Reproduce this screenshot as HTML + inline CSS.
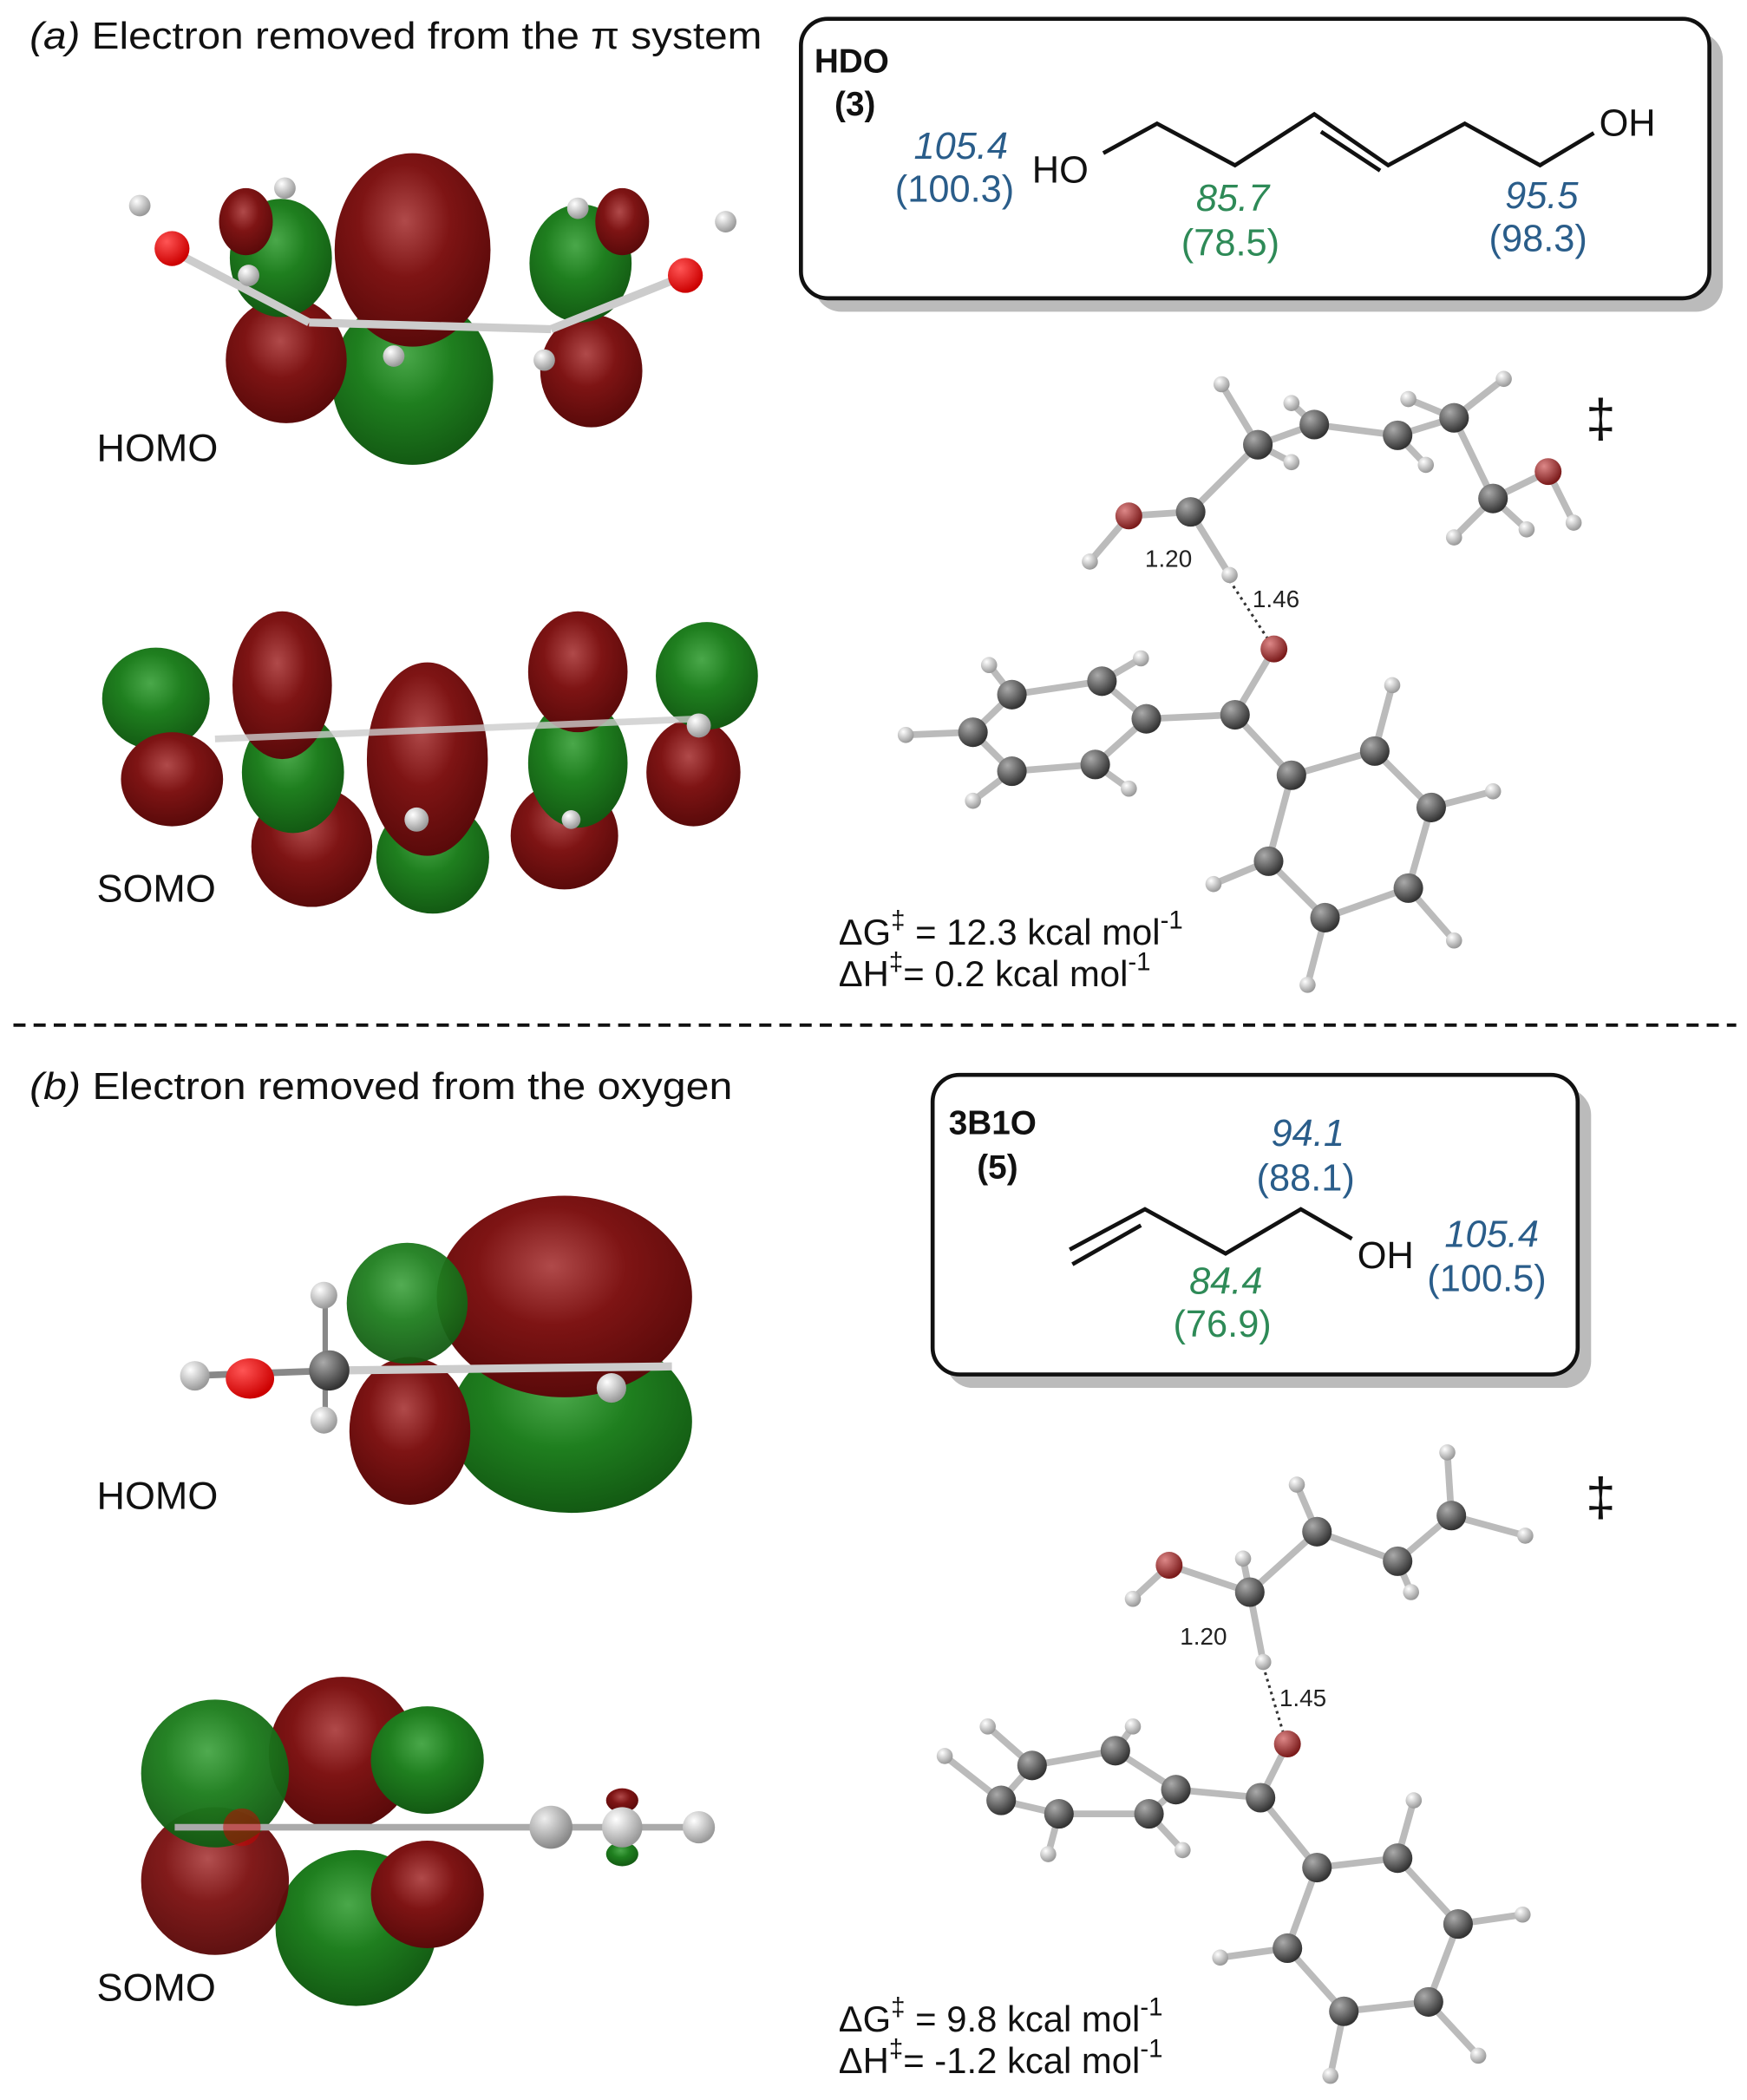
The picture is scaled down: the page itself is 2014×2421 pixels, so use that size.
<!DOCTYPE html>
<html><head><meta charset="utf-8"><style>
html,body{margin:0;padding:0;background:#fff;}
svg{display:block;}
text{font-family:"Liberation Sans",sans-serif;}
</style></head><body>
<svg width="2014" height="2421" viewBox="0 0 1300 1563" preserveAspectRatio="none" xmlns="http://www.w3.org/2000/svg">
<defs>
<radialGradient id="r" cx="45%" cy="35%" r="65%"><stop offset="0" stop-color="#b04a4a"/><stop offset="0.45" stop-color="#7e1414"/><stop offset="1" stop-color="#5a0a0a"/></radialGradient>
<radialGradient id="g" cx="45%" cy="35%" r="65%"><stop offset="0" stop-color="#4aa84a"/><stop offset="0.45" stop-color="#1f7f1f"/><stop offset="1" stop-color="#135a13"/></radialGradient>
<radialGradient id="c" cx="35%" cy="30%" r="70%"><stop offset="0" stop-color="#aaa"/><stop offset="1" stop-color="#333"/></radialGradient>
<radialGradient id="h" cx="35%" cy="30%" r="70%"><stop offset="0" stop-color="#fff"/><stop offset="1" stop-color="#999"/></radialGradient>
<radialGradient id="o" cx="35%" cy="30%" r="70%"><stop offset="0" stop-color="#d88"/><stop offset="1" stop-color="#7a1a1a"/></radialGradient>
<radialGradient id="ob" cx="35%" cy="30%" r="70%"><stop offset="0" stop-color="#f55"/><stop offset="1" stop-color="#c00"/></radialGradient>
<radialGradient id="cl" cx="35%" cy="30%" r="70%"><stop offset="0" stop-color="#eee"/><stop offset="1" stop-color="#888"/></radialGradient>
</defs>

<!-- Section (a) header -->
<text x="22" y="36" font-size="28" fill="#111" textLength="545" lengthAdjust="spacingAndGlyphs"><tspan font-style="italic">(a)</tspan>  Electron removed from the π system</text>

<!-- HDO box -->
<rect x="606" y="24" width="676" height="208" rx="20" fill="#bbb"/>
<rect x="596" y="14" width="676" height="208" rx="20" fill="#fff" stroke="#111" stroke-width="3"/>
<text x="606" y="54" font-size="25" font-weight="bold" fill="#111">HDO</text>
<text x="621" y="86" font-size="25" font-weight="bold" fill="#111">(3)</text>
<text x="680" y="118" font-size="28" font-style="italic" fill="#2a5d8a">105.4</text>
<text x="666" y="150" font-size="28" fill="#2a5d8a">(100.3)</text>
<text x="768" y="136" font-size="28" fill="#111">HO</text>
<polyline points="821,114 861,92 919,123 978,85 1033,123 1090,92 1146,123 1186,99" fill="none" stroke="#111" stroke-width="3"/>
<line x1="983" y1="98" x2="1027" y2="127" stroke="#111" stroke-width="3"/>
<text x="1190" y="101" font-size="28" fill="#111">OH</text>
<text x="890" y="157" font-size="28" font-style="italic" fill="#2e8a57">85.7</text>
<text x="879" y="190" font-size="28" fill="#2e8a57">(78.5)</text>
<text x="1120" y="155" font-size="28" font-style="italic" fill="#2a5d8a">95.5</text>
<text x="1108" y="187" font-size="28" fill="#2a5d8a">(98.3)</text>

<!-- HOMO (a) -->
<ellipse cx="307" cy="283" rx="60" ry="63" fill="url(#g)"/>
<ellipse cx="307" cy="186" rx="58" ry="72" fill="url(#r)"/>
<ellipse cx="213" cy="268" rx="45" ry="47" fill="url(#r)"/>
<ellipse cx="209" cy="192" rx="38" ry="44" fill="url(#g)"/>
<ellipse cx="440" cy="276" rx="38" ry="42" fill="url(#r)"/>
<ellipse cx="432" cy="196" rx="38" ry="44" fill="url(#g)"/>
<ellipse cx="183" cy="165" rx="20" ry="25" fill="url(#r)"/>
<ellipse cx="463" cy="165" rx="20" ry="25" fill="url(#r)"/>
<line x1="125" y1="185" x2="230" y2="240" stroke="#ccc" stroke-width="6"/>
<line x1="230" y1="240" x2="410" y2="245" stroke="#ccc" stroke-width="6"/>
<line x1="410" y1="245" x2="510" y2="205" stroke="#ccc" stroke-width="6"/>
<circle cx="128" cy="185" r="13" fill="url(#ob)"/>
<circle cx="510" cy="205" r="13" fill="url(#ob)"/>
<circle cx="104" cy="153" r="8" fill="url(#h)"/>
<circle cx="212" cy="140" r="8" fill="url(#h)"/>
<circle cx="185" cy="205" r="8" fill="url(#h)"/>
<circle cx="293" cy="265" r="8" fill="url(#h)"/>
<circle cx="405" cy="268" r="8" fill="url(#h)"/>
<circle cx="430" cy="155" r="8" fill="url(#h)"/>
<circle cx="540" cy="165" r="8" fill="url(#h)"/>
<text x="72" y="343" font-size="29" fill="#111">HOMO</text>

<!-- SOMO (a) -->
<ellipse cx="116" cy="520" rx="40" ry="38" fill="url(#g)"/>
<ellipse cx="128" cy="580" rx="38" ry="35" fill="url(#r)"/>
<ellipse cx="322" cy="638" rx="42" ry="42" fill="url(#g)"/>
<ellipse cx="232" cy="630" rx="45" ry="45" fill="url(#r)"/>
<ellipse cx="420" cy="622" rx="40" ry="40" fill="url(#r)"/>
<ellipse cx="318" cy="565" rx="45" ry="72" fill="url(#r)"/>
<ellipse cx="218" cy="575" rx="38" ry="45" fill="url(#g)"/>
<ellipse cx="210" cy="510" rx="37" ry="55" fill="url(#r)"/>
<ellipse cx="430" cy="568" rx="37" ry="48" fill="url(#g)"/>
<ellipse cx="430" cy="500" rx="37" ry="45" fill="url(#r)"/>
<ellipse cx="516" cy="575" rx="35" ry="40" fill="url(#r)"/>
<ellipse cx="526" cy="503" rx="38" ry="40" fill="url(#g)"/>
<line x1="160" y1="550" x2="520" y2="535" stroke="#ccc" stroke-width="5" opacity="0.8"/>
<circle cx="310" cy="610" r="9" fill="url(#h)"/>
<circle cx="425" cy="610" r="7" fill="url(#h)"/>
<circle cx="520" cy="540" r="9" fill="url(#h)"/>
<text x="72" y="671" font-size="29" fill="#111">SOMO</text>

<!-- TS (a) -->
<g stroke="#bbb" stroke-width="5" fill="none">
<polyline points="909,286 936,331 978,316 1040,324 1082,311 1119,282"/>
<line x1="936" y1="331" x2="961" y2="344"/><line x1="978" y1="316" x2="961" y2="300"/><line x1="1040" y1="324" x2="1061" y2="346"/><line x1="1082" y1="311" x2="1048" y2="297"/>
<polyline points="1082,311 1111,371 1152,351 1171,389"/><line x1="1111" y1="371" x2="1082" y2="400"/><line x1="1111" y1="371" x2="1136" y2="394"/>
<polyline points="936,331 886,381 840,384 811,418"/><line x1="886" y1="381" x2="915" y2="428"/>
<polyline points="948,483 919,532 853,535"/>
<polygon points="853,535 820,507 753,517 724,545 753,574 815,569"/>
<line x1="820" y1="507" x2="849" y2="490"/><line x1="753" y1="517" x2="736" y2="495"/><line x1="724" y1="545" x2="674" y2="547"/><line x1="753" y1="574" x2="724" y2="596"/><line x1="815" y1="569" x2="840" y2="587"/>
<line x1="919" y1="532" x2="961" y2="577"/>
<polygon points="961,577 1023,559 1065,601 1048,661 986,683 944,641"/>
<line x1="1023" y1="559" x2="1036" y2="510"/><line x1="1065" y1="601" x2="1111" y2="589"/><line x1="1048" y1="661" x2="1082" y2="700"/><line x1="986" y1="683" x2="973" y2="733"/><line x1="944" y1="641" x2="903" y2="658"/>
</g>
<line x1="915" y1="432" x2="945" y2="478" stroke="#333" stroke-width="2" stroke-dasharray="2,3"/>
<g fill="url(#c)">
<circle cx="936" cy="331" r="11"/><circle cx="978" cy="316" r="11"/><circle cx="1040" cy="324" r="11"/><circle cx="1082" cy="311" r="11"/><circle cx="1111" cy="371" r="11"/><circle cx="886" cy="381" r="11"/><circle cx="919" cy="532" r="11"/>
<circle cx="853" cy="535" r="11"/><circle cx="820" cy="507" r="11"/><circle cx="753" cy="517" r="11"/><circle cx="724" cy="545" r="11"/><circle cx="753" cy="574" r="11"/><circle cx="815" cy="569" r="11"/>
<circle cx="961" cy="577" r="11"/><circle cx="1023" cy="559" r="11"/><circle cx="1065" cy="601" r="11"/><circle cx="1048" cy="661" r="11"/><circle cx="986" cy="683" r="11"/><circle cx="944" cy="641" r="11"/>
</g>
<g fill="url(#o)"><circle cx="1152" cy="351" r="10"/><circle cx="840" cy="384" r="10"/><circle cx="948" cy="483" r="10"/></g>
<g fill="url(#h)">
<circle cx="909" cy="286" r="6"/><circle cx="961" cy="344" r="6"/><circle cx="961" cy="300" r="6"/><circle cx="1061" cy="346" r="6"/><circle cx="1048" cy="297" r="6"/><circle cx="1119" cy="282" r="6"/><circle cx="1082" cy="400" r="6"/><circle cx="1136" cy="394" r="6"/><circle cx="1171" cy="389" r="6"/><circle cx="811" cy="418" r="6"/><circle cx="915" cy="428" r="6"/>
<circle cx="849" cy="490" r="6"/><circle cx="736" cy="495" r="6"/><circle cx="674" cy="547" r="6"/><circle cx="724" cy="596" r="6"/><circle cx="840" cy="587" r="6"/>
<circle cx="1036" cy="510" r="6"/><circle cx="1111" cy="589" r="6"/><circle cx="1082" cy="700" r="6"/><circle cx="973" cy="733" r="6"/><circle cx="903" cy="658" r="6"/>
</g>
<text x="852" y="422" font-size="18" fill="#222">1.20</text>
<text x="932" y="452" font-size="18" fill="#222">1.46</text>
<text x="1180" y="325" font-size="40" fill="#111">‡</text>
<text x="624" y="703" font-size="27" fill="#111">ΔG<tspan dy="-12" font-size="19">‡</tspan><tspan dy="12"> = 12.3 kcal mol</tspan><tspan dy="-12" font-size="19">-1</tspan></text>
<text x="624" y="734" font-size="27" fill="#111">ΔH<tspan dy="-12" font-size="19">‡</tspan><tspan dy="12">= 0.2 kcal mol</tspan><tspan dy="-12" font-size="19">-1</tspan></text>

<!-- dashed separator -->
<line x1="10" y1="763" x2="1292" y2="763" stroke="#111" stroke-width="2.5" stroke-dasharray="9,6"/>

<!-- Section (b) -->
<text x="22" y="818" font-size="28" fill="#111" textLength="523" lengthAdjust="spacingAndGlyphs"><tspan font-style="italic">(b)</tspan>  Electron removed from the oxygen</text>

<rect x="704" y="810" width="480" height="223" rx="20" fill="#bbb"/>
<rect x="694" y="800" width="480" height="223" rx="20" fill="#fff" stroke="#111" stroke-width="3"/>
<text x="706" y="844" font-size="25" font-weight="bold" fill="#111">3B1O</text>
<text x="727" y="877" font-size="25" font-weight="bold" fill="#111">(5)</text>
<text x="946" y="853" font-size="28" font-style="italic" fill="#2a5d8a">94.1</text>
<text x="935" y="886" font-size="28" fill="#2a5d8a">(88.1)</text>
<polyline points="796,930 852,900 912,933 968,900 1006,922" fill="none" stroke="#111" stroke-width="3"/>
<line x1="798" y1="941" x2="849" y2="912" stroke="#111" stroke-width="3"/>
<text x="1010" y="944" font-size="28" fill="#111">OH</text>
<text x="1075" y="928" font-size="28" font-style="italic" fill="#2a5d8a">105.4</text>
<text x="1062" y="961" font-size="28" fill="#2a5d8a">(100.5)</text>
<text x="885" y="963" font-size="28" font-style="italic" fill="#2e8a57">84.4</text>
<text x="873" y="995" font-size="28" fill="#2e8a57">(76.9)</text>

<!-- HOMO (b) -->
<ellipse cx="425" cy="1058" rx="90" ry="68" fill="url(#g)"/>
<ellipse cx="420" cy="965" rx="95" ry="75" fill="url(#r)"/>
<ellipse cx="305" cy="1065" rx="45" ry="55" fill="url(#r)"/>
<ellipse cx="303" cy="970" rx="45" ry="45" fill="url(#g)" opacity="0.95"/>
<line x1="140" y1="1024" x2="250" y2="1020" stroke="#888" stroke-width="5"/>
<line x1="250" y1="1020" x2="500" y2="1017" stroke="#ccc" stroke-width="6"/>
<line x1="242" y1="965" x2="242" y2="1055" stroke="#888" stroke-width="4"/>
<circle cx="145" cy="1024" r="11" fill="url(#h)"/>
<ellipse cx="186" cy="1026" rx="18" ry="15" fill="url(#ob)"/>
<circle cx="245" cy="1020" r="15" fill="url(#c)"/>
<circle cx="241" cy="964" r="10" fill="url(#h)"/>
<circle cx="241" cy="1057" r="10" fill="url(#h)"/>
<circle cx="455" cy="1033" r="11" fill="url(#h)"/>
<text x="72" y="1123" font-size="29" fill="#111">HOMO</text>

<!-- SOMO (b) -->
<ellipse cx="265" cy="1435" rx="60" ry="58" fill="url(#g)"/>
<ellipse cx="255" cy="1305" rx="55" ry="57" fill="url(#r)"/>
<ellipse cx="160" cy="1400" rx="55" ry="55" fill="url(#r)" opacity="0.97"/>
<ellipse cx="160" cy="1320" rx="55" ry="55" fill="url(#g)" opacity="0.97"/>
<ellipse cx="318" cy="1310" rx="42" ry="40" fill="url(#g)"/>
<ellipse cx="318" cy="1410" rx="42" ry="40" fill="url(#r)"/>
<line x1="130" y1="1360" x2="520" y2="1360" stroke="#aaa" stroke-width="5"/>
<circle cx="180" cy="1360" r="14" fill="#c00" opacity="0.5"/>
<circle cx="410" cy="1360" r="16" fill="url(#cl)"/>
<ellipse cx="463" cy="1340" rx="12" ry="9" fill="url(#r)"/>
<ellipse cx="463" cy="1380" rx="12" ry="9" fill="url(#g)"/>
<circle cx="463" cy="1360" r="15" fill="url(#h)"/>
<circle cx="520" cy="1360" r="12" fill="url(#h)"/>
<text x="72" y="1489" font-size="29" fill="#111">SOMO</text>

<!-- TS (b) -->
<g stroke="#bbb" stroke-width="5" fill="none">
<polyline points="1080,1128 1040,1162 980,1140 930,1185 870,1165 843,1190"/>
<line x1="1080" y1="1128" x2="1077" y2="1081"/><line x1="1080" y1="1128" x2="1135" y2="1143"/><line x1="1040" y1="1162" x2="1050" y2="1185"/><line x1="980" y1="1140" x2="965" y2="1105"/><line x1="930" y1="1185" x2="940" y2="1237"/><line x1="930" y1="1185" x2="925" y2="1160"/>
<polyline points="958,1298 938,1338 875,1332"/>
<polygon points="875,1332 830,1303 768,1314 745,1340 788,1350 855,1350"/>
<line x1="830" y1="1303" x2="843" y2="1285"/><line x1="768" y1="1314" x2="735" y2="1285"/><line x1="745" y1="1340" x2="703" y2="1307"/><line x1="788" y1="1350" x2="780" y2="1380"/><line x1="855" y1="1350" x2="880" y2="1377"/>
<line x1="938" y1="1338" x2="980" y2="1390"/>
<polygon points="980,1390 1040,1383 1085,1432 1063,1490 1000,1497 958,1450"/>
<line x1="1040" y1="1383" x2="1052" y2="1340"/><line x1="1085" y1="1432" x2="1133" y2="1425"/><line x1="1063" y1="1490" x2="1100" y2="1530"/><line x1="1000" y1="1497" x2="990" y2="1545"/><line x1="958" y1="1450" x2="908" y2="1457"/>
</g>
<line x1="940" y1="1240" x2="955" y2="1290" stroke="#333" stroke-width="2" stroke-dasharray="2,3"/>
<g fill="url(#c)">
<circle cx="1080" cy="1128" r="11"/><circle cx="1040" cy="1162" r="11"/><circle cx="980" cy="1140" r="11"/><circle cx="930" cy="1185" r="11"/><circle cx="938" cy="1338" r="11"/>
<circle cx="875" cy="1332" r="11"/><circle cx="830" cy="1303" r="11"/><circle cx="768" cy="1314" r="11"/><circle cx="745" cy="1340" r="11"/><circle cx="788" cy="1350" r="11"/><circle cx="855" cy="1350" r="11"/>
<circle cx="980" cy="1390" r="11"/><circle cx="1040" cy="1383" r="11"/><circle cx="1085" cy="1432" r="11"/><circle cx="1063" cy="1490" r="11"/><circle cx="1000" cy="1497" r="11"/><circle cx="958" cy="1450" r="11"/>
</g>
<g fill="url(#o)"><circle cx="870" cy="1165" r="10"/><circle cx="958" cy="1298" r="10"/></g>
<g fill="url(#h)">
<circle cx="1077" cy="1081" r="6"/><circle cx="1135" cy="1143" r="6"/><circle cx="1050" cy="1185" r="6"/><circle cx="965" cy="1105" r="6"/><circle cx="925" cy="1160" r="6"/><circle cx="940" cy="1237" r="6"/><circle cx="843" cy="1190" r="6"/>
<circle cx="843" cy="1285" r="6"/><circle cx="735" cy="1285" r="6"/><circle cx="703" cy="1307" r="6"/><circle cx="780" cy="1380" r="6"/><circle cx="880" cy="1377" r="6"/>
<circle cx="1052" cy="1340" r="6"/><circle cx="1133" cy="1425" r="6"/><circle cx="1100" cy="1530" r="6"/><circle cx="990" cy="1545" r="6"/><circle cx="908" cy="1457" r="6"/>
</g>
<text x="878" y="1224" font-size="18" fill="#222">1.20</text>
<text x="952" y="1270" font-size="18" fill="#222">1.45</text>
<text x="1180" y="1128" font-size="40" fill="#111">‡</text>
<text x="624" y="1512" font-size="27" fill="#111">ΔG<tspan dy="-12" font-size="19">‡</tspan><tspan dy="12"> = 9.8 kcal mol</tspan><tspan dy="-12" font-size="19">-1</tspan></text>
<text x="624" y="1543" font-size="27" fill="#111">ΔH<tspan dy="-12" font-size="19">‡</tspan><tspan dy="12">= -1.2 kcal mol</tspan><tspan dy="-12" font-size="19">-1</tspan></text>
</svg>
</body></html>
